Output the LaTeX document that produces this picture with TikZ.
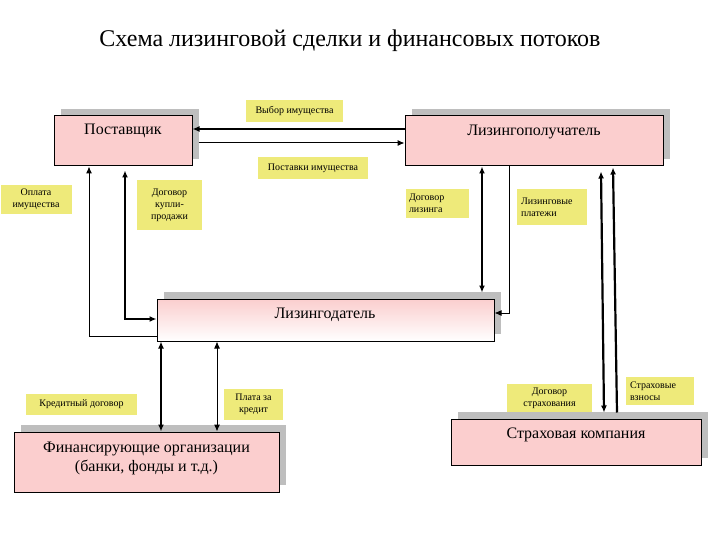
\documentclass[tikz,border=0pt]{standalone}
\usepackage{fontspec}
\setmainfont{Liberation Serif}
\usetikzlibrary{arrows.meta,shadows,calc}
\definecolor{boxpink}{RGB}{251,206,206}
\definecolor{lblyellow}{RGB}{238,234,122}
\definecolor{shadowgray}{RGB}{190,190,190}
\begin{document}
\begin{tikzpicture}[x=1pt,y=-1pt,
  box/.style={draw=black, line width=1pt, fill=boxpink, inner sep=0pt,
    drop shadow={shadow xshift=7pt, shadow yshift=7pt, fill=shadowgray, opacity=1}},
  boxtext/.style={font=\fontsize{16}{19}\selectfont, align=center, inner sep=0pt},
  lbl/.style={fill=lblyellow, font=\fontsize{10}{12}\selectfont, inner sep=0pt, align=center},
  thickline/.style={line width=2.2pt},
  thinline/.style={line width=1pt},
  >={Latex[length=7pt,width=6pt]}
]
\fill[white] (0,0) rectangle (720,540);
\useasboundingbox (0,0) rectangle (720,540);

\node[font=\fontsize{24}{28}\selectfont, anchor=base, inner sep=0pt] (title) at (350,47) {Схема лизинговой сделки и финансовых потоков};

% boxes
\node[box, minimum width=138pt, minimum height=50pt] (post) at (123,141) {};
\node[boxtext, anchor=base] (postT) at (123,135) {Поставщик};
\node[box, minimum width=258pt, minimum height=50pt] (lp) at (534,141) {};
\node[boxtext, anchor=base] (lpT) at (534,136) {Лизингополучатель};
\node[box, top color=boxpink, bottom color=white, minimum width=337pt, minimum height=42pt] (ld) at (325.5,320) {};
\node[boxtext, anchor=base] (ldT) at (325,318) {Лизингодатель};
\node[box, minimum width=265pt, minimum height=60pt] (fin) at (146.5,462) {};
\node[boxtext] (finT) at (146.5,458) {Финансирующие организации\\(банки, фонды и т.д.)};
\node[box, minimum width=250pt, minimum height=46pt] (sk) at (576,442) {};
\node[boxtext, anchor=base] (skT) at (576,438) {Страховая компания};

% labels
\node[lbl, minimum width=97pt, minimum height=22pt] (l1) at (294.5,111) {Выбор имущества};
\node[lbl, minimum width=110pt, minimum height=22pt] (l2) at (313,168) {Поставки имущества};
\node[lbl, minimum width=71pt, minimum height=29pt] (l3) at (36,199.5) {Оплата\\имущества};
\node[lbl, minimum width=65pt, minimum height=50pt] (l4) at (169.5,205) {Договор\\купли-\\продажи};
\node[lbl, minimum width=63pt, minimum height=29pt, align=left, text width=57pt] (l5) at (437.5,203.5) {Договор\\лизинга};
\node[lbl, minimum width=70pt, minimum height=36pt, align=left, text width=62pt] (l6) at (552,207) {Лизинговые\\платежи};
\node[lbl, minimum width=111pt, minimum height=21pt] (l7) at (81.5,404.5) {Кредитный договор};
\node[lbl, minimum width=59pt, minimum height=31pt] (l8) at (253.5,404.5) {Плата за\\кредит};
\node[lbl, minimum width=85pt, minimum height=28pt] (l9) at (549.5,398) {Договор\\страхования};
\node[lbl, minimum width=68pt, minimum height=28pt, align=left, text width=60pt] (l10) at (660,391) {Страховые\\взносы};

% connectors
\draw[thickline,->] ($(lp.west)+(0,-12)$) -- ($(post.east)+(0,-12)$);
\draw[thinline,->] ($(post.east)+(6,2)$) -- ($(lp.west)+(0,2)$);
\draw[thinline,->] ($(ld.west)+(0,16)$) -| ($(post.south)+(-34,0)$);
\draw[thickline,<->] ($(post.south)+(2,4)$) |- ($(ld.west)+(0,-1)$);
\draw[thickline,<->] ($(lp.south)+(-52,0)$) -- ($(ld.north)+(156.5,-6)$);
\draw[thinline,->] ($(lp.south)+(-25,0)$) |- ($(ld.east)+(0,-7)$);
\draw[thickline,<->] ($(lp.south)+(67,5)$) -- ($(sk.north)+(28,-6)$);
\draw[thickline,->] ($(sk.north)+(41,-6)$) -- ($(lp.south)+(79,1)$);
\draw[thickline,<->] ($(ld.south)+(-164.5,0)$) -- ($(fin.north)+(14.5,0)$);
\draw[thinline,<->] ($(ld.south)+(-108.5,0)$) -- ($(fin.north)+(70.5,0)$);
\end{tikzpicture}
\end{document}
